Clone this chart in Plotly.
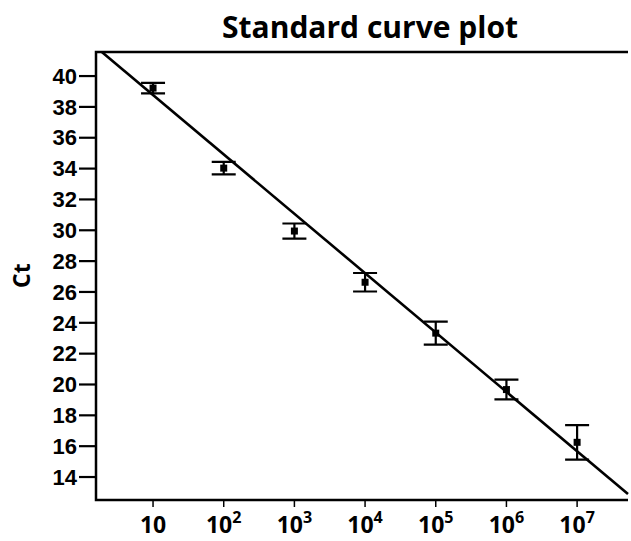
import numpy as np
import plotly.graph_objects as go

# Data
copies = [10, 1e2, 1e3, 1e4, 1e5, 1e6, 1e7]
ct_mean = [39.22, 34.03, 29.95, 26.63, 23.33, 19.67, 16.25]
ct_err = [0.34, 0.41, 0.49, 0.60, 0.75, 0.64, 1.12]
fit_slope = -3.85      # Ct per decade
fit_intercept = 42.62  # Ct at log10(copies) = 0
x_tick_vals = [10, 1e2, 1e3, 1e4, 1e5, 1e6, 1e7]
x_tick_text = ["10", "10<sup>2</sup>", "10<sup>3</sup>", "10<sup>4</sup>",
               "10<sup>5</sup>", "10<sup>6</sup>", "10<sup>7</sup>"]
y_tick_vals = list(range(14, 41, 2))

# axis frame (in log10 copies / Ct units)
x_frame = [0.193, 7.72]
y_frame = [12.51, 41.56]

log_copies = np.log10(copies)
log_ticks = np.log10(x_tick_vals)

W, H = 631, 541
# pixel positions of the frame and of the (slightly larger) plotting area
FL, FR, FT, FB = 96, 628, 52, 500
OL, OR, OT, OB = 78, 630, 48, 509
YTICK_LEN = 17
XTICK_LEN = 7

xs = (x_frame[1] - x_frame[0]) / (FR - FL)
ys = (y_frame[1] - y_frame[0]) / (FB - FT)
x_range = [x_frame[0] - (FL - OL) * xs, x_frame[1] + (OR - FR) * xs]
y_range = [y_frame[0] - (OB - FB) * ys, y_frame[1] + (FT - OT) * ys]

# fitted line clipped to the frame
x_start = max(x_frame[0], (y_frame[1] - fit_intercept) / fit_slope)
x_end = min(x_frame[1], (y_frame[0] - fit_intercept) / fit_slope)
line_x = [x_start, x_end]
line_y = [fit_intercept + fit_slope * v for v in line_x]

fig = go.Figure()

# frame: top, left, bottom
fig.add_trace(go.Scatter(
    x=[x_frame[1], x_frame[0], x_frame[0], x_frame[1]],
    y=[y_frame[1], y_frame[1], y_frame[0], y_frame[0]],
    mode="lines", line=dict(color="black", width=2.5),
    hoverinfo="skip", showlegend=False))

# y tick marks
ytx, yty = [], []
for v in y_tick_vals:
    ytx += [x_frame[0] - YTICK_LEN * xs, x_frame[0], None]
    yty += [v, v, None]
fig.add_trace(go.Scatter(x=ytx, y=yty, mode="lines",
                         line=dict(color="black", width=2.2),
                         hoverinfo="skip", showlegend=False))
# x tick marks
xtx, xty = [], []
for v in log_ticks:
    xtx += [v, v, None]
    xty += [y_frame[0], y_frame[0] - XTICK_LEN * ys, None]
fig.add_trace(go.Scatter(x=xtx, y=xty, mode="lines",
                         line=dict(color="black", width=1.5),
                         hoverinfo="skip", showlegend=False))

fig.add_trace(go.Scatter(
    x=line_x, y=line_y, mode="lines",
    line=dict(color="black", width=2.6), hoverinfo="skip", showlegend=False))
fig.add_trace(go.Scatter(
    x=log_copies, y=ct_mean, mode="markers",
    marker=dict(symbol="square", size=7, color="black"),
    error_y=dict(type="data", array=ct_err, visible=True,
                 color="black", thickness=2.2, width=12),
    showlegend=False))

plot_w = OR - OL
fig.update_layout(
    width=W, height=H,
    margin=dict(l=OL, r=W - OR, t=OT, b=H - OB),
    paper_bgcolor="white", plot_bgcolor="white",
    title=dict(text="<b>Standard curve plot</b>", x=(370 - OL) / plot_w, xref="paper",
               xanchor="center", y=1 - 27 / H, yanchor="middle",
               font=dict(family="Open Sans", size=30, color="black")),
    xaxis=dict(range=x_range, tickmode="array", tickvals=log_ticks,
               ticktext=x_tick_text, ticks="", showline=False,
               showgrid=False, zeroline=False, automargin=False,
               tickfont=dict(family="Open Sans", size=23, color="black",
                             weight="bold")),
    yaxis=dict(range=y_range, tickmode="array", tickvals=y_tick_vals, ticks="",
               showline=False, showgrid=False, zeroline=False, automargin=False,
               tickfont=dict(family="Liberation Sans", size=22, color="black",
                             weight="bold")),
    annotations=[dict(text="<b>Ct</b>", xref="paper", yref="paper",
                      x=(21 - OL) / plot_w, y=1 - (276 - OT) / (OB - OT),
                      xanchor="center", yanchor="middle",
                      textangle=-90, showarrow=False,
                      font=dict(family="Open Sans", size=23, color="black"))],
)

fig.write_html("out.html")
